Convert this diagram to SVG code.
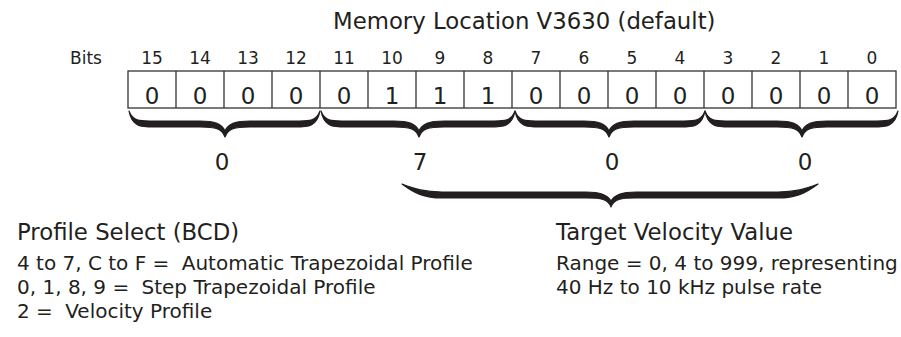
<svg xmlns="http://www.w3.org/2000/svg" width="901" height="337" viewBox="0 0 901 337">
<style>
text{font-family:"DejaVu Sans","Open Sans",sans-serif;fill:#231f20}
.title{font-size:22.8px}
.bitn{font-size:17px;text-anchor:middle}
.cell{font-size:23px;text-anchor:middle}
.grp{font-size:23px;text-anchor:middle}
.head{font-size:22.8px}
.body{font-size:20px}
.box{fill:#fff;stroke:#333;stroke-width:1.3}
.div{stroke:#333;stroke-width:1.3}
.brace{fill:#231f20;stroke:#231f20;stroke-width:1.2;stroke-linejoin:round}
</style>
<rect width="901" height="337" fill="#fff"/>
<g id="title"><text class="title" x="333" y="29">Memory Location V3630 (default)</text></g>
<g id="bit-labels">
<text x="70" y="64" style="font-size:17px">Bits</text>
<text class="bitn" x="152" y="64">15</text>
<text class="bitn" x="200" y="64">14</text>
<text class="bitn" x="248" y="64">13</text>
<text class="bitn" x="296" y="64">12</text>
<text class="bitn" x="344" y="64">11</text>
<text class="bitn" x="392" y="64">10</text>
<text class="bitn" x="440" y="64">9</text>
<text class="bitn" x="488" y="64">8</text>
<text class="bitn" x="536" y="64">7</text>
<text class="bitn" x="584" y="64">6</text>
<text class="bitn" x="632" y="64">5</text>
<text class="bitn" x="680" y="64">4</text>
<text class="bitn" x="728" y="64">3</text>
<text class="bitn" x="776" y="64">2</text>
<text class="bitn" x="824" y="64">1</text>
<text class="bitn" x="872" y="64">0</text>
</g>
<g id="register">
<rect class="box" x="128" y="71" width="768" height="37"/>
<path class="div" d="M176,71V108M224,71V108M272,71V108M320,71V108M368,71V108M416,71V108M464,71V108M512,71V108M560,71V108M608,71V108M656,71V108M704,71V108M752,71V108M800,71V108M848,71V108"/>
<text class="cell" x="152" y="104">0</text>
<text class="cell" x="200" y="104">0</text>
<text class="cell" x="248" y="104">0</text>
<text class="cell" x="296" y="104">0</text>
<text class="cell" x="344" y="104">0</text>
<text class="cell" x="392" y="104">1</text>
<text class="cell" x="440" y="104">1</text>
<text class="cell" x="488" y="104">1</text>
<text class="cell" x="536" y="104">0</text>
<text class="cell" x="584" y="104">0</text>
<text class="cell" x="632" y="104">0</text>
<text class="cell" x="680" y="104">0</text>
<text class="cell" x="728" y="104">0</text>
<text class="cell" x="776" y="104">0</text>
<text class="cell" x="824" y="104">0</text>
<text class="cell" x="872" y="104">0</text>
</g>
<g id="connectors">
<path class="brace" d="M129,111 C133,122 141,121 154,121 L200,121 C215,121 222,124 225,131 C228,124 235,121 250,121 L295,121 C308,121 316,122 320,111 C317,127 308,127 295,127 L250,127 C235,127 228,128 225,137 C222,128 215,127 200,127 L154,127 C141,127 132,127 129,111 Z"/>
<path class="brace" d="M321,111 C325,122 333,121 346,121 L394,121 C409,121 416,124 419,131 C422,124 429,121 444,121 L490,121 C503,121 511,122 515,111 C512,127 503,127 490,127 L444,127 C429,127 422,128 419,137 C416,128 409,127 394,127 L346,127 C333,127 324,127 321,111 Z"/>
<path class="brace" d="M515,111 C519,122 527,121 540,121 L584,121 C599,121 606,124 609,131 C612,124 619,121 634,121 L680,121 C693,121 701,122 705,111 C702,127 693,127 680,127 L634,127 C619,127 612,128 609,137 C606,128 599,127 584,127 L540,127 C527,127 518,127 515,111 Z"/>
<path class="brace" d="M705,111 C709,122 717,121 730,121 L777,121 C792,121 799,124 802,131 C805,124 812,121 827,121 L873,121 C886,121 894,122 898,111 C895,127 886,127 873,127 L827,127 C812,127 805,128 802,137 C799,128 792,127 777,127 L730,127 C717,127 708,127 705,111 Z"/>
<path class="brace" d="M402,184 C415,189 425,192 442,192 L586,192 C601,192 608,195 611,201 C614,195 621,192 636,192 L778,192 C795,192 805,189 818,184 C806,193 796,198 778,198 L636,198 C621,198 614,199 611,207 C608,199 601,198 586,198 L442,198 C424,198 414,193 402,184 Z"/>
</g>
<g id="group-values">
<text class="grp" x="222" y="170">0</text>
<text class="grp" x="420" y="170">7</text>
<text class="grp" x="612" y="170">0</text>
<text class="grp" x="805" y="170">0</text>
</g>
<g id="profile-select">
<text class="head" x="17" y="240">Profile Select (BCD)</text>
<text class="body" x="17" y="270">4 to 7, C to F = <tspan dx="6">Automatic Trapezoidal Profile</tspan></text>
<text class="body" x="17" y="294">0, 1, 8, 9 = <tspan dx="6">Step Trapezoidal Profile</tspan></text>
<text class="body" x="17" y="318">2 = <tspan dx="6">Velocity Profile</tspan></text>
</g>
<g id="target-velocity">
<text class="head" x="556" y="240">Target Velocity Value</text>
<text class="body" x="556" y="270">Range = 0, 4 to 999, representing</text>
<text class="body" x="556" y="294">40 Hz to 10 kHz pulse rate</text>
</g>
</svg>
